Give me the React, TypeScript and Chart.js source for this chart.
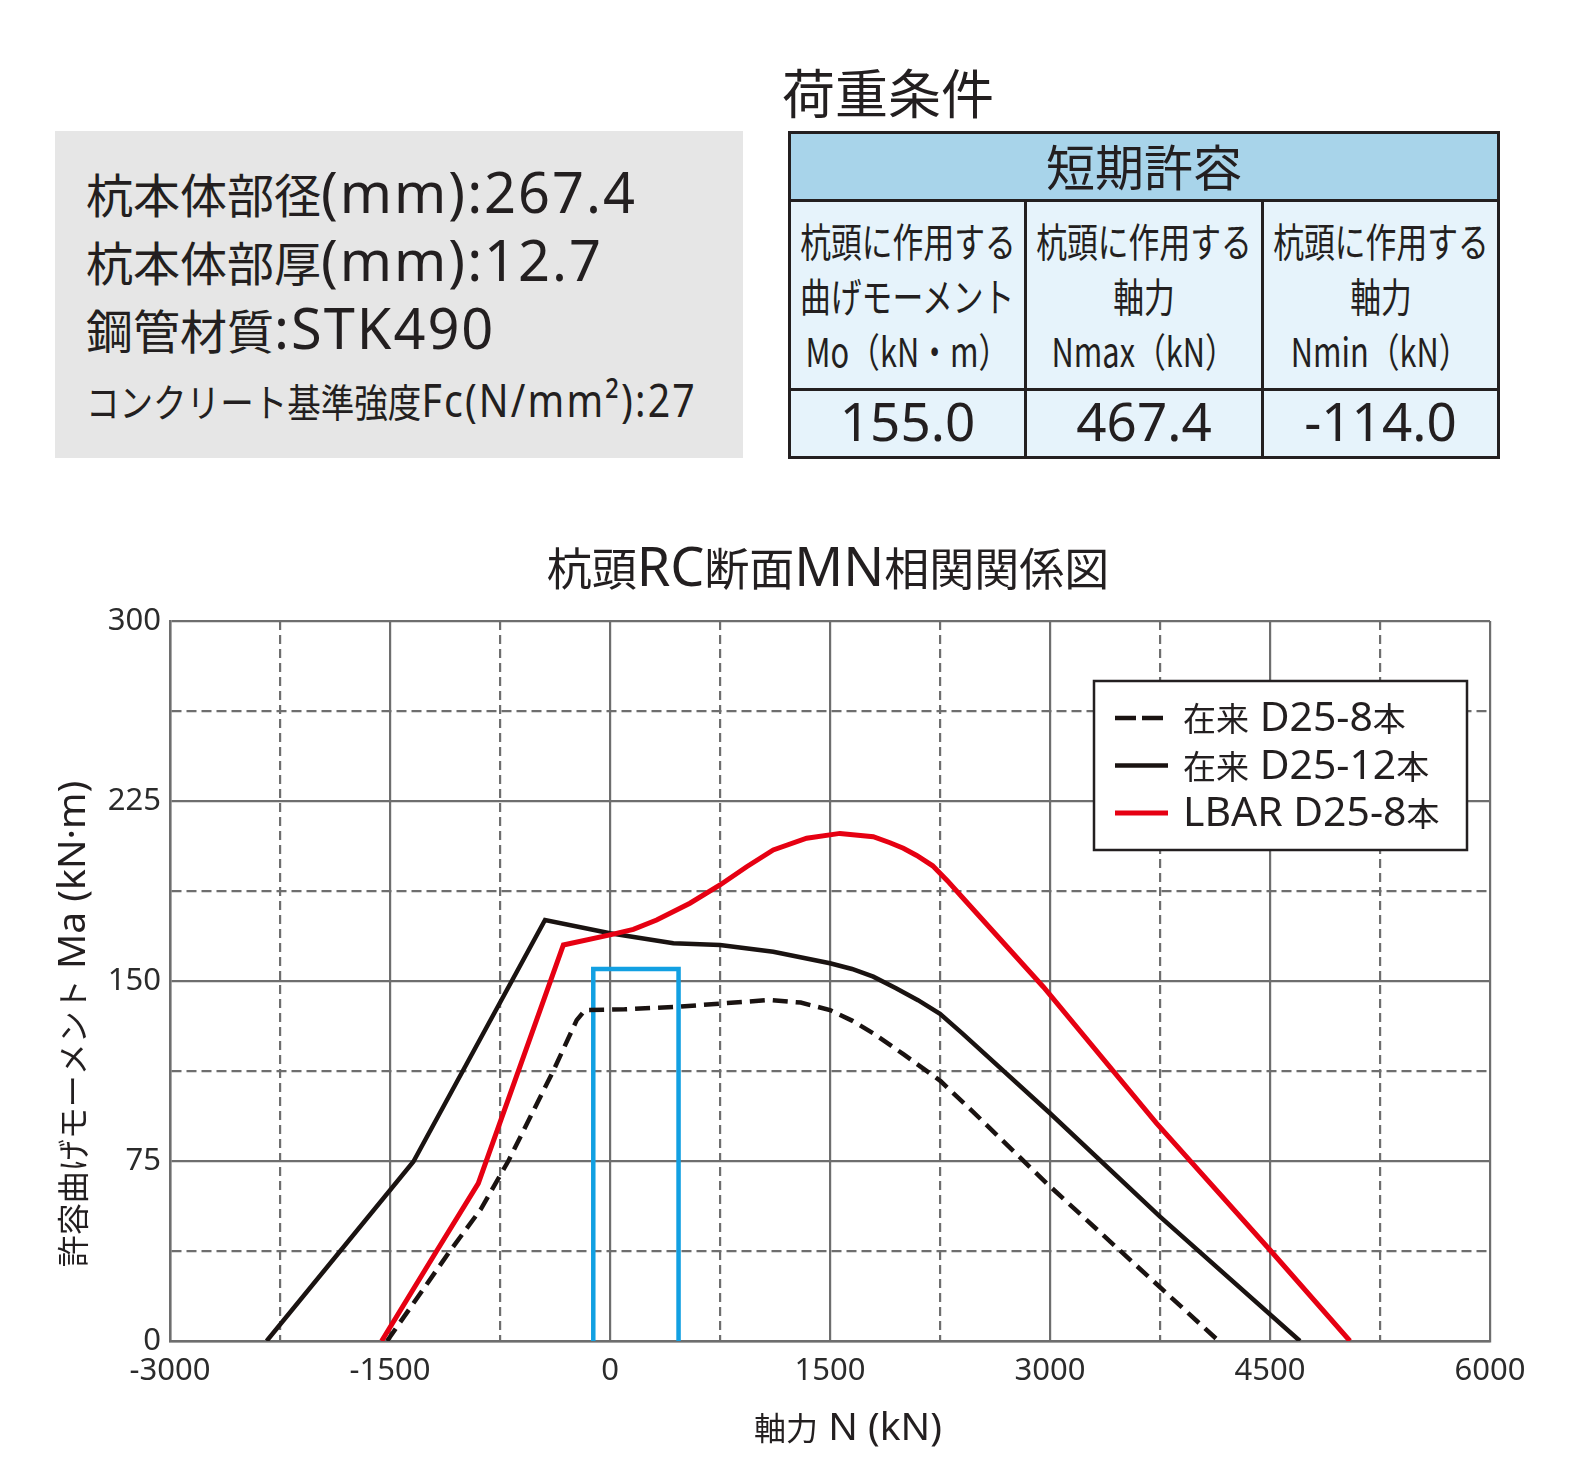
import React, { useEffect, useRef } from "react";
import { Chart, registerables } from "chart.js";

Chart.register(...registerables);

// ---------- text / table data ----------
const specLines = ["杭本体部径(mm):267.4", "杭本体部厚(mm):12.7", "鋼管材質:STK490"];
const specNote = "コンクリート基準強度Fc(N/mm²):27";
const loadTitle = "荷重条件";
const loadHeader = "短期許容";
const loadColumnHeads = [
  ["杭頭に作用する", "曲げモーメント", "Mo（kN・m）"],
  ["杭頭に作用する", "軸力", "Nmax（kN）"],
  ["杭頭に作用する", "軸力", "Nmin（kN）"],
];
const Mo = 155.0;
const Nmax = 467.4;
const Nmin = -114.0;
const loadValues = [Mo, Nmax, Nmin];

// ---------- chart data ----------
const chartTitle = "杭頭RC断面MN相関関係図";
const xAxisTitle = "軸力 N (kN)";
const yAxisTitle = "許容曲げモーメント Ma (kN·m)";
const xTickLabels = [-3000, -1500, 0, 1500, 3000, 4500, 6000];
const yTickLabels = [0, 75, 150, 225, 300];
const seriesNames = ["在来 D25-8本", "在来 D25-12本", "LBAR D25-8本"];

const d8N = [-1520, -1091, -880, -693, -387, -227, -170, 100, 477, 800, 1091, 1300, 1500, 1650, 1795, 2000, 2250, 2450, 2977, 4150];
const d8M = [0, 37.5, 55, 75, 112.5, 133.7, 137.9, 138.2, 139.3, 140.8, 142.1, 141, 137.9, 133.5, 128.2, 119.5, 108.5, 97, 65.7, 0];

const d12N = [-2341, -1341, -443, 0, 432, 750, 1113, 1500, 1650, 1795, 1950, 2100, 2250, 2400, 3000, 3750, 4704];
const d12M = [0, 74.7, 175.4, 169.9, 165.7, 165, 162.2, 157.4, 155, 151.8, 147, 142, 136.3, 128.3, 94.9, 51.8, 0];

const lbarN = [-1557, -1182, -898, -318, 0, 159, 318, 545, 750, 932, 1113, 1341, 1568, 1795, 1909, 2000, 2091, 2200, 2300, 2400, 2955, 3727, 4500, 5045];
const lbarM = [0, 37.5, 65.7, 165, 169.2, 171.5, 175.4, 182.4, 190, 197.6, 204.6, 209.5, 211.5, 210.1, 207.6, 205.3, 202.3, 198, 191.8, 185, 147.5, 90.7, 37.9, 0];

const CJK_FONT = '"Noto Sans CJK JP", sans-serif';
const LATIN_FONT = '"Noto Sans", "Noto Sans CJK JP", sans-serif';
const TEXT = "#231f20";
const CJK_RE = /([\u3000-\u30ff\u3400-\u9fff\uff00-\uffef]+)/;

const pts = (xs: number[], ys: number[]) => xs.map((x, i) => ({ x, y: ys[i] }));

function Mixed({
  text,
  size,
  latinScale = 1.17,
  latinSpacing = 0,
}: {
  text: string;
  size: number;
  latinScale?: number;
  latinSpacing?: number;
}) {
  const parts = text.split(CJK_RE).filter((p) => p.length > 0);
  return (
    <>
      {parts.map((p, i) =>
        CJK_RE.test(p) ? (
          <span key={i} style={{ fontFamily: CJK_FONT, fontSize: size }}>
            {p}
          </span>
        ) : (
          <span key={i} style={{ fontFamily: LATIN_FONT, fontSize: size * latinScale, letterSpacing: latinSpacing }}>
            {p}
          </span>
        )
      )}
    </>
  );
}

function drawMixed(ctx: any, text: string, x: number, y: number, size: number, latinScale: number, align: "left" | "center") {
  const parts = text
    .split(CJK_RE)
    .filter((p) => p.length > 0)
    .map((p) => ({
      p,
      font: CJK_RE.test(p) ? `${size}px ${CJK_FONT}` : `${size * latinScale}px ${LATIN_FONT}`,
      w: 0,
    }));
  let total = 0;
  parts.forEach((q) => {
    ctx.font = q.font;
    q.w = ctx.measureText(q.p).width;
    total += q.w;
  });
  let cx = align === "center" ? x - total / 2 : x;
  ctx.textAlign = "left";
  ctx.textBaseline = "alphabetic";
  parts.forEach((q) => {
    ctx.font = q.font;
    ctx.fillText(q.p, cx, y);
    cx += q.w;
  });
}

const legendOrder = [0, 1, 2];

const boxLegend = {
  id: "boxLegend",
  afterDatasetsDraw(chart: any) {
    const ctx = chart.ctx;
    const x0 = 1094, y0 = 151, w = 373, h = 169;
    ctx.save();
    ctx.fillStyle = "#ffffff";
    ctx.fillRect(x0, y0, w, h);
    ctx.lineWidth = 2.5;
    ctx.strokeStyle = TEXT;
    ctx.strokeRect(x0, y0, w, h);
    legendOrder.forEach((di, i) => {
      const ds = chart.data.datasets[di];
      const y = 188 + i * 47.5;
      ctx.beginPath();
      ctx.setLineDash(ds.legendDash || []);
      ctx.lineWidth = ds.borderWidth;
      ctx.strokeStyle = ds.borderColor;
      ctx.moveTo(1115, y);
      ctx.lineTo(1168, y);
      ctx.stroke();
      ctx.setLineDash([]);
      ctx.fillStyle = TEXT;
      drawMixed(ctx, ds.label, 1183, y + 13, 33, 1.24, "left");
    });
    ctx.restore();
  },
};

const textDecor = {
  id: "textDecor",
  afterDraw(chart: any) {
    const ctx = chart.ctx;
    ctx.save();
    ctx.fillStyle = TEXT;
    drawMixed(ctx, chartTitle, 828, 56, 45, 1.2, "center");
    drawMixed(ctx, xAxisTitle, 848, 910, 32, 1.22, "center");
    ctx.translate(73, 494);
    ctx.rotate(-Math.PI / 2);
    drawMixed(ctx, yAxisTitle, 0, 12, 32, 1.22, "center");
    ctx.restore();
  },
};

function MNChart() {
  const ref = useRef<HTMLCanvasElement | null>(null);
  useEffect(() => {
    if (!ref.current) return;
    const gridColor = "#6e6e6e";
    const tickFont = { family: '"Noto Sans", sans-serif', size: 31 };
    const chart = new Chart(ref.current, {
      type: "scatter",
      data: {
        datasets: [
          {
            label: seriesNames[0],
            data: pts(d8N, d8M),
            showLine: true,
            borderColor: "#1a1311",
            borderWidth: 4.5,
            borderDash: [15, 8],
            legendDash: [21, 6],
            pointRadius: 0,
            tension: 0,
            order: 2,
          } as any,
          {
            label: seriesNames[1],
            data: pts(d12N, d12M),
            showLine: true,
            borderColor: "#1a1311",
            borderWidth: 4.5,
            pointRadius: 0,
            tension: 0,
            order: 1,
          },
          {
            label: seriesNames[2],
            data: pts(lbarN, lbarM),
            showLine: true,
            borderColor: "#e60012",
            borderWidth: 5,
            pointRadius: 0,
            tension: 0,
            order: 0,
          },
          {
            label: loadHeader,
            data: [
              { x: Nmin, y: 0 },
              { x: Nmin, y: Mo },
              { x: Nmax, y: Mo },
              { x: Nmax, y: 0 },
            ],
            showLine: true,
            borderColor: "#12a0e2",
            borderWidth: 4.5,
            pointRadius: 0,
            tension: 0,
            order: 3,
          },
        ],
      },
      options: {
        responsive: false,
        animation: false,
        layout: { padding: { left: 0, right: 89, top: 91, bottom: 0 } },
        plugins: {
          legend: { display: false },
          tooltip: { enabled: false },
          title: { display: false },
        },
        scales: {
          x: {
            type: "linear",
            min: -3000,
            max: 6000,
            afterFit: (s: any) => {
              s.height = 129;
            },
            ticks: {
              stepSize: 750,
              autoSkip: false,
              maxRotation: 0,
              padding: 12,
              color: "#2b2b2b",
              font: tickFont,
              callback: (v: any) => (xTickLabels.includes(Number(v)) ? String(v) : ""),
            },
            grid: { color: gridColor, lineWidth: 2.2, drawTicks: false },
            border: {
              display: true,
              color: gridColor,
              width: 2.5,
              dash: (c: any) => (c.tick && !xTickLabels.includes(c.tick.value) ? [9, 5] : []),
            },
          },
          y: {
            type: "linear",
            min: 0,
            max: 300,
            afterFit: (s: any) => {
              s.width = 170;
            },
            ticks: {
              stepSize: 37.5,
              autoSkip: false,
              padding: 9,
              color: "#2b2b2b",
              font: tickFont,
              callback: (v: any) => (yTickLabels.includes(Number(v)) ? String(v) : ""),
            },
            grid: { color: gridColor, lineWidth: 2.2, drawTicks: false },
            border: {
              display: true,
              color: gridColor,
              width: 2.5,
              dash: (c: any) => (c.tick && !yTickLabels.includes(c.tick.value) ? [10, 5] : []),
            },
          },
        },
      } as any,
      plugins: [boxLegend, textDecor],
    });
    return () => chart.destroy();
  }, []);
  return (
    <canvas
      ref={ref}
      width={1579}
      height={940}
      style={{ position: "absolute", left: 0, top: 530, width: 1579, height: 940 }}
    />
  );
}

const abs = (left: number, top: number, extra: React.CSSProperties = {}): React.CSSProperties => ({
  position: "absolute",
  left,
  top,
  whiteSpace: "nowrap",
  ...extra,
});

export default function App() {
  const specTops = [167, 235, 303];
  const cellBorder = `3px solid ${TEXT}`;
  return (
    <div
      style={{
        position: "absolute",
        left: 0,
        top: 0,
        width: 1579,
        height: 1470,
        background: "#ffffff",
        fontFamily: CJK_FONT,
        color: TEXT,
        overflow: "hidden",
      }}
    >
      <div style={abs(55, 131, { width: 688, height: 327, background: "#e6e6e6" })} />
      {specLines.map((t, i) => (
        <div key={i} style={abs(86, specTops[i], { fontSize: 48, lineHeight: "48px", height: 48 })}>
          <Mixed text={t} size={47} latinScale={1.19} latinSpacing={2} />
        </div>
      ))}
      <div
        style={abs(86, 379, {
          fontSize: 40,
          lineHeight: "40px",
          height: 40,
          transform: "scaleX(0.86)",
          transformOrigin: "left center",
        })}
      >
        <Mixed text={specNote} size={39} latinScale={1.17} latinSpacing={2.5} />
      </div>

      <div style={abs(782, 65, { fontSize: 53, lineHeight: "52px" })}>{loadTitle}</div>

      <table
        style={{
          position: "absolute",
          left: 788,
          top: 131,
          width: 709,
          height: 327,
          borderCollapse: "collapse",
          tableLayout: "fixed",
          color: TEXT,
          fontFamily: CJK_FONT,
        }}
      >
        <colgroup>
          <col style={{ width: 236 }} />
          <col style={{ width: 237 }} />
          <col style={{ width: 236 }} />
        </colgroup>
        <tbody>
          <tr style={{ height: 68 }}>
            <td
              colSpan={3}
              style={{
                border: cellBorder,
                background: "#a8d4ea",
                textAlign: "center",
                fontSize: 49,
                lineHeight: "49px",
                padding: "0 0 4px 0",
              }}
            >
              {loadHeader}
            </td>
          </tr>
          <tr style={{ height: 189 }}>
            {loadColumnHeads.map((lines, ci) => (
              <td
                key={ci}
                style={{ border: cellBorder, background: "#e6f3fb", padding: 0, verticalAlign: "middle" }}
              >
                {lines.map((l, li) => (
                  <div
                    key={li}
                    style={{ display: "flex", justifyContent: "center", height: 55, lineHeight: "55px", fontSize: 40 }}
                  >
                    <span style={{ display: "inline-block", transform: "scaleX(0.77)", whiteSpace: "nowrap" }}>{l}</span>
                  </div>
                ))}
              </td>
            ))}
          </tr>
          <tr style={{ height: 68 }}>
            {loadValues.map((v, ci) => (
              <td
                key={ci}
                style={{
                  border: cellBorder,
                  background: "#e6f3fb",
                  textAlign: "center",
                  fontFamily: LATIN_FONT,
                  fontSize: 53,
                  lineHeight: "53px",
                  padding: "0 0 6px 0",
                }}
              >
                {v.toFixed(1)}
              </td>
            ))}
          </tr>
        </tbody>
      </table>

      <MNChart />
    </div>
  );
}
